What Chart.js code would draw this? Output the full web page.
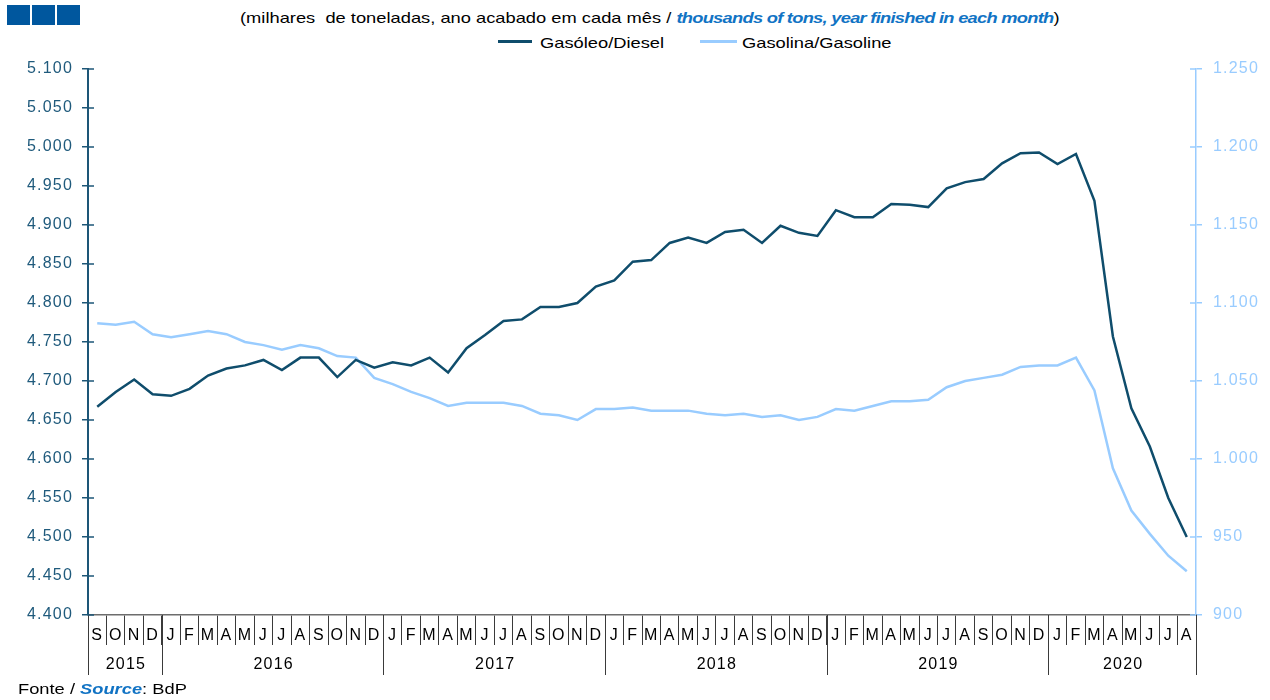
<!DOCTYPE html>
<html lang="pt">
<head>
<meta charset="utf-8">
<title>Gasóleo e gasolina</title>
<script src="https://cdn.jsdelivr.net/npm/chart.js@4/dist/chart.umd.min.js"></script>
<style>
  html, body { margin: 0; padding: 0; background: #fff; }
  #wrap { position: relative; width: 1270px; height: 700px; overflow: hidden;
          font-family: 'Liberation Sans', Arial, sans-serif; font-size: 15px; color: #000; }
  #chart { position: absolute; left: 0; top: 0; }
  .wide { position: absolute; white-space: nowrap; line-height: 18px;
          transform: scaleX(1.22); transform-origin: 0 50%; }
  .en { color: #1173c4; font-weight: bold; font-style: italic; }
  .logo { position: absolute; top: 5px; width: 23px; height: 20px; background: #00579e; }
  .key { position: absolute; height: 3px; }
</style>
</head>
<body>
<div id="wrap">
  <div class="logo" style="left:7px"></div>
  <div class="logo" style="left:32px"></div>
  <div class="logo" style="left:57px"></div>

  <div class="wide" style="left:240px; top:9px">(milhares &nbsp;de toneladas, ano acabado em cada mês / <span class="en" style="letter-spacing:-0.6px">thousands of tons, year finished in each month</span>)</div>

  <div class="key" style="left:498px; top:40px; width:34px; background:#0f4d6c"></div>
  <div class="wide" style="left:540px; top:34px">Gasóleo/Diesel</div>
  <div class="key" style="left:700px; top:40px; width:37px; background:#99ccff"></div>
  <div class="wide" style="left:742px; top:34px">Gasolina/Gasoline</div>

  <canvas id="chart" width="1270" height="700"></canvas>

  <div class="wide" style="left:18px; top:680px">Fonte / <span class="en">Source</span>: BdP</div>
</div>

<script>
// Month initials, September 2015 to August 2020
const monthLabels = [
  'S','O','N','D',
  'J','F','M','A','M','J','J','A','S','O','N','D',
  'J','F','M','A','M','J','J','A','S','O','N','D',
  'J','F','M','A','M','J','J','A','S','O','N','D',
  'J','F','M','A','M','J','J','A','S','O','N','D',
  'J','F','M','A','M','J','J','A'
];
const yearLabels = ['2015', '2016', '2017', '2018', '2019', '2020'];

// Diesel, thousands of tons, 12-month rolling sum
const dieselKt = [
  4667, 4686, 4702, 4683,
  4681, 4690, 4707, 4716, 4720, 4727, 4714, 4730, 4730, 4705, 4727, 4717,
  4724, 4720, 4730, 4711, 4742, 4759, 4777, 4779, 4795, 4795, 4800, 4821,
  4829, 4853, 4855, 4877, 4884, 4877, 4891, 4894, 4877, 4899, 4890, 4886,
  4919, 4910, 4910, 4927, 4926, 4923, 4947, 4955, 4959, 4979, 4992, 4993,
  4978, 4991, 4931, 4757, 4665, 4616, 4550, 4500
];

// Gasoline, thousands of tons, 12-month rolling sum
const gasolineKt = [
  1087, 1086, 1088, 1080,
  1078, 1080, 1082, 1080, 1075, 1073, 1070, 1073, 1071, 1066, 1065, 1052,
  1048, 1043, 1039, 1034, 1036, 1036, 1036, 1034, 1029, 1028, 1025, 1032,
  1032, 1033, 1031, 1031, 1031, 1029, 1028, 1029, 1027, 1028, 1025, 1027,
  1032, 1031, 1034, 1037, 1037, 1038, 1046, 1050, 1052, 1054, 1059, 1060,
  1060, 1065, 1044, 994, 967, 952, 938, 928
];

const DIESEL = '#0f4d6c';
const GASOLINE = '#99ccff';
const LEFT_AXIS = '#1d5677';
const FONT = { family: "'Liberation Sans', Arial, sans-serif", size: 16 };

// 5100 -> "5.100"
function thousands(v) {
  if (v < 1000) return String(v);
  return Math.floor(v / 1000) + '.' + String(v % 1000).padStart(3, '0');
}

// Year groups start at every January that follows a December
function yearStarts() {
  const s = [0];
  monthLabels.forEach((m, i) => {
    if (i > 0 && m === 'J' && monthLabels[i - 1] === 'D') s.push(i);
  });
  return s;
}

const axisDecor = {
  id: 'axisDecor',
  beforeDraw(chart) {
    chart.ctx.letterSpacing = '1.2px';
  },
  afterDraw(chart) {
    const ctx = chart.ctx;
    const area = chart.chartArea;
    const x = chart.scales.x;
    const half = (x.getPixelForValue(1) - x.getPixelForValue(0)) / 2;
    const edges = yearStarts().map(i => x.getPixelForValue(i) - half);
    edges.push(x.getPixelForValue(monthLabels.length - 1) + half);

    ctx.save();
    // long separators between years
    ctx.strokeStyle = '#3a3a3a';
    ctx.lineWidth = 1;
    edges.forEach(px => {
      const xx = Math.round(px) + 0.5;
      ctx.beginPath();
      ctx.moveTo(xx, area.bottom);
      ctx.lineTo(xx, area.bottom + 60);
      ctx.stroke();
    });
    // year captions
    ctx.font = '16px ' + FONT.family;
    ctx.fillStyle = '#000';
    ctx.textAlign = 'center';
    ctx.textBaseline = 'middle';
    yearLabels.forEach((label, k) => {
      ctx.fillText(label, (edges[k] + edges[k + 1]) / 2 + 1, area.bottom + 50);
    });
    // tick marks crossing into the plot on both value axes
    const inner = (scale, color, x0, x1) => {
      ctx.strokeStyle = color;
      ctx.lineWidth = 1.5;
      scale.ticks.forEach(t => {
        const py = scale.getPixelForValue(t.value);
        ctx.beginPath();
        ctx.moveTo(x0, py);
        ctx.lineTo(x1, py);
        ctx.stroke();
      });
    };
    inner(chart.scales.y, LEFT_AXIS, area.left, area.left + 6);
    inner(chart.scales.y1, GASOLINE, area.right - 6, area.right);
    ctx.restore();
  }
};

new Chart(document.getElementById('chart'), {
  type: 'line',
  data: {
    labels: monthLabels,
    datasets: [
      {
        label: 'Gasóleo/Diesel',
        data: dieselKt,
        yAxisID: 'y',
        borderColor: DIESEL,
        backgroundColor: DIESEL,
        borderWidth: 2.5,
        pointRadius: 0,
        tension: 0
      },
      {
        label: 'Gasolina/Gasoline',
        data: gasolineKt,
        yAxisID: 'y1',
        borderColor: GASOLINE,
        backgroundColor: GASOLINE,
        borderWidth: 2.5,
        pointRadius: 0,
        tension: 0
      }
    ]
  },
  options: {
    responsive: false,
    animation: false,
    devicePixelRatio: 1,
    layout: { padding: { top: 69, left: 0, right: 0, bottom: 0 } },
    plugins: {
      legend: { display: false },
      tooltip: { enabled: false },
      title: { display: false }
    },
    scales: {
      x: {
        type: 'category',
        offset: true,
        grid: { offset: true, drawOnChartArea: false, drawTicks: true, tickLength: 30,
                color: '#3a3a3a', lineWidth: 1 },
        border: { color: '#6d6d6d', width: 1.5 },
        ticks: { autoSkip: false, maxRotation: 0, minRotation: 0, padding: -19,
                 color: '#000', font: FONT },
        afterFit(s) { s.height = 85; }
      },
      y: {
        position: 'left',
        min: 4400,
        max: 5100,
        ticks: { stepSize: 50, padding: 9, color: '#1f5a7c', font: FONT, callback: v => thousands(v) },
        grid: { drawOnChartArea: false, tickLength: 6, color: LEFT_AXIS, lineWidth: 1.5 },
        border: { color: LEFT_AXIS, width: 2 },
        afterFit(s) { s.width = 88; }
      },
      y1: {
        position: 'right',
        min: 900,
        max: 1250,
        ticks: { stepSize: 50, padding: 11, color: GASOLINE, font: FONT, callback: v => thousands(v) },
        grid: { drawOnChartArea: false, tickLength: 6, color: GASOLINE, lineWidth: 1.5 },
        border: { color: GASOLINE, width: 1.5 },
        afterFit(s) { s.width = 74; }
      }
    }
  },
  plugins: [axisDecor]
});
</script>
</body>
</html>
